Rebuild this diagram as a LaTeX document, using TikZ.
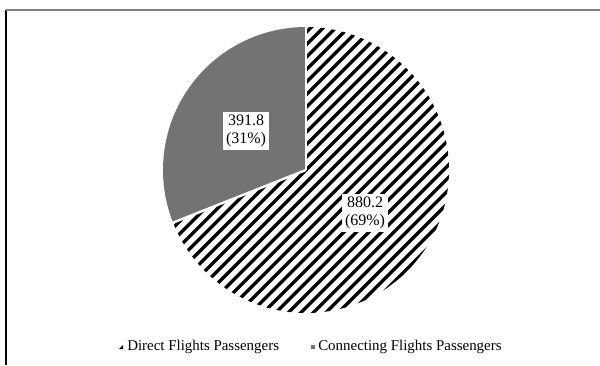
\documentclass[tikz,border=0pt]{standalone}
\usepackage{fontspec}
\setmainfont{Liberation Serif}
\usetikzlibrary{calc}

\tikzset{
  valbox/.style={fill=white,inner sep=2.5pt,align=center,font=\fontsize{12}{13}\selectfont},
  legtext/.style={anchor=west,inner sep=0pt,font=\fontsize{11.2}{12}\selectfont},
  stripe/.style={line width=2.4pt,black},
  gap/.style={white,line width=1.8pt}
}

\begin{document}
\begin{tikzpicture}[line cap=butt,line join=round,x=0.75pt,y=0.75pt]
\useasboundingbox (0,0) rectangle (600,365);
%rahmen
\draw[black,line width=1pt] (6,0) -- (6,355);
\draw[gray,line width=1pt] (6,355) -- (600,355);

\coordinate (c) at (306,195);
%connecting flights (31%)
\fill[black!55] (c) -- ++(90:143) arc (90:201.6:143) -- cycle;
%direct flights (69%), viivoitus
\begin{scope}
\clip (c) -- ++(90:143) arc (90:-158.4:143) -- cycle;
\fill[white] (c) circle [radius=150];
\foreach \k in {-25,...,25}
{
\draw[stripe] ($(c)+(\k*12.5,0)+(-220,-220)$) -- ++(440,440);
}
\end{scope}
%valkoiset raot
\draw[gap] (c) -- ++(90:144);
\draw[gap] (c) -- ++(201.6:144);

\node[valbox] (conn) at (246,234) {391.8\\(31\%)};
\node[valbox] (dir) at (365,152) {880.2\\(69\%)};

%selite
\fill[black] (119,16) -- (123,16) -- (123,20) -- cycle;
\node[legtext] (ldir) at (127,18) {Direct Flights Passengers};
\fill[black!55] (311,16) rectangle (315,20);
\node[legtext] (lconn) at (318,18) {Connecting Flights Passengers};
\end{tikzpicture}
\end{document}
